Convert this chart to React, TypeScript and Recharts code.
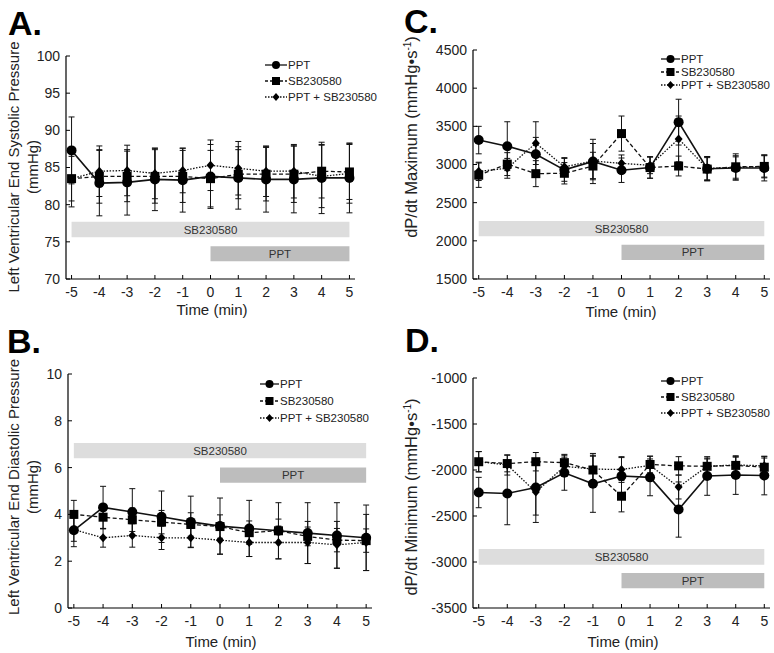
import React from 'react';
import { LineChart, Line, XAxis, YAxis, ErrorBar, ReferenceArea } from 'recharts';

const FONT = '"Liberation Sans", Arial, Helvetica, sans-serif';

const times = [-5, -4, -3, -2, -1, 0, 1, 2, 3, 4, 5];

// A. LV end systolic pressure (mmHg)
const lvespPPT = [87.3, 82.9, 83.0, 83.4, 83.3, 83.8, 83.6, 83.4, 83.4, 83.6, 83.6];
const lvespPPTErr = [4.5, 4.4, 4.4, 4.2, 4.3, 4.3, 4.2, 4.4, 4.5, 4.8, 4.7];
const lvespSB = [83.5, 83.8, 83.8, 83.8, 83.8, 83.5, 84.1, 84.1, 84.1, 84.5, 84.4];
const lvespSBErr = [3.8, 3.6, 3.4, 3.6, 3.5, 3.8, 3.3, 3.6, 3.8, 3.6, 3.7];
const lvespCombo = [83.5, 84.5, 84.6, 84.2, 84.6, 85.3, 84.9, 84.5, 84.5, 83.8, 84.2];
const lvespComboErr = [3.0, 3.4, 3.4, 3.4, 3.0, 3.4, 3.6, 3.4, 3.6, 4.2, 4.0];

// B. LV end diastolic pressure (mmHg)
const lvedpPPT = [3.32, 4.3, 4.1, 3.9, 3.68, 3.5, 3.4, 3.3, 3.2, 3.1, 3.0];
const lvedpPPTErr = [0.7, 0.9, 1.0, 1.1, 1.1, 1.2, 1.2, 1.2, 1.3, 1.4, 1.4];
const lvedpSB = [4.0, 3.88, 3.77, 3.67, 3.57, 3.48, 3.22, 3.3, 3.06, 2.9, 2.88];
const lvedpSBErr = [0.6, 0.5, 0.5, 0.5, 0.5, 0.5, 0.5, 0.5, 0.4, 0.5, 0.5];
const lvedpCombo = [3.35, 3.0, 3.1, 3.0, 3.0, 2.9, 2.8, 2.8, 2.8, 2.7, 2.8];
const lvedpComboErr = [0.5, 0.4, 0.5, 0.5, 0.4, 0.6, 0.6, 0.7, 0.9, 1.0, 1.2];

// C. dP/dt maximum
const dpMaxPPT = [3320, 3240, 3135, 2930, 3040, 2925, 2960, 3555, 2945, 2955, 2955];
const dpMaxPPTErr = [180, 320, 220, 150, 290, 160, 140, 300, 160, 160, 170];
const dpMaxSB = [2860, 3005, 2880, 2885, 2980, 3405, 2960, 2980, 2940, 2970, 2975];
const dpMaxSBErr = [160, 150, 170, 140, 180, 230, 140, 130, 150, 170, 150];
const dpMaxCombo = [2910, 2950, 3280, 2970, 3045, 3015, 2990, 3335, 2950, 2960, 2975];
const dpMaxComboErr = [120, 130, 280, 120, 230, 110, 110, 300, 150, 140, 140];

// D. dP/dt minimum
const dpMinPPT = [-2245, -2255, -2190, -2030, -2150, -2065, -2080, -2430, -2065, -2055, -2060];
const dpMinPPTErr = [165, 340, 300, 190, 310, 200, 200, 300, 210, 210, 210];
const dpMinSB = [-1910, -1930, -1910, -1920, -2000, -2285, -1940, -1955, -1960, -1950, -1970];
const dpMinSBErr = [110, 90, 100, 90, 150, 170, 90, 100, 80, 90, 100];
const dpMinCombo = [-1910, -1945, -2240, -1960, -1990, -1995, -1950, -2185, -1960, -1945, -1955];
const dpMinComboErr = [110, 110, 330, 100, 170, 140, 100, 130, 90, 90, 100];

// treatment bars [low, high]
const lvespBands = { sb: [75.6, 77.7], ppt: [72.4, 74.4] };
const lvedpBands = { sb: [6.4, 7.05], ppt: [5.35, 6.0] };
const dpMaxBands = { sb: [2060, 2260], ppt: [1750, 1950] };
const dpMinBands = { sb: [-3030, -2860], ppt: [-3285, -3120] };

const lvespTicks = [70, 75, 80, 85, 90, 95, 100];
const lvedpTicks = [0, 2, 4, 6, 8, 10];
const dpMaxTicks = [1500, 2000, 2500, 3000, 3500, 4000, 4500];
const dpMinTicks = [-3500, -3000, -2500, -2000, -1500, -1000];

const buildRows = (ppt: number[], pptErr: number[], sb: number[], sbErr: number[], combo: number[], comboErr: number[]) =>
    times.map((t, i) => ({
        t,
        ppt: ppt[i],
        pptErr: pptErr[i],
        sb: sb[i],
        sbErr: sbErr[i],
        combo: combo[i],
        comboErr: comboErr[i],
    }));

const SquareDot = (props: any) => {
    const { cx, cy, index } = props;
    if (cx == null || cy == null) return null;
    return <rect key={`sq-${index}`} x={cx - 4.5} y={cy - 4.5} width={9} height={9} fill="#000" />;
};

const DiamondDot = (props: any) => {
    const { cx, cy, index } = props;
    if (cx == null || cy == null) return null;
    return (
        <polygon
            key={`dm-${index}`}
            points={`${cx},${cy - 4.5} ${cx + 4},${cy} ${cx},${cy + 4.5} ${cx - 4},${cy}`}
            fill="#000"
        />
    );
};

const TEXT = '#222';
const tickStyle = { fill: TEXT, fontSize: 14, fontFamily: FONT };
const bandLabel = { fill: '#333', fontSize: 11.5, fontFamily: FONT };

interface PanelProps {
    rows: any[];
    yDomain: number[];
    yTicks: number[];
    bands: { sb: number[]; ppt: number[] };
    width: number;
    height: number;
    margin: { top: number; right: number; bottom: number; left: number };
}

function Panel({ rows, yDomain, yTicks, bands, width, height, margin }: PanelProps) {
    return (
        <LineChart width={width} height={height} data={rows} margin={margin}>
            <XAxis
                dataKey="t"
                type="number"
                domain={[-5.2, 5.2]}
                ticks={times}
                interval={0}
                height={30}
                tickSize={-4}
                tickMargin={12}
                axisLine={{ stroke: '#000', strokeWidth: 1.2 }}
                tickLine={{ stroke: '#000' }}
                tick={tickStyle}
                allowDataOverflow
            />
            <YAxis
                type="number"
                domain={yDomain}
                ticks={yTicks}
                interval={0}
                width={60}
                tickSize={-4}
                tickMargin={10}
                axisLine={{ stroke: '#000', strokeWidth: 1.2 }}
                tickLine={{ stroke: '#000' }}
                tick={tickStyle}
                allowDataOverflow
            />
            <ReferenceArea
                x1={-5}
                x2={5}
                y1={bands.sb[0]}
                y2={bands.sb[1]}
                fill="#dddddd"
                fillOpacity={1}
                stroke="none"
                label={{ value: 'SB230580', position: 'center', ...bandLabel }}
            />
            <ReferenceArea
                x1={0}
                x2={5}
                y1={bands.ppt[0]}
                y2={bands.ppt[1]}
                fill="#bdbdbd"
                fillOpacity={1}
                stroke="none"
                label={{ value: 'PPT', position: 'center', ...bandLabel }}
            />
            <Line
                dataKey="ppt"
                stroke="#111"
                strokeWidth={1.6}
                dot={{ r: 5, fill: '#000', stroke: '#000', strokeWidth: 0 }}
                isAnimationActive={false}
            >
                <ErrorBar dataKey="pptErr" direction="y" width={3} stroke="#111" strokeWidth={1} />
            </Line>
            <Line
                dataKey="combo"
                stroke="#111"
                strokeWidth={1.3}
                strokeDasharray="1.5 1.5"
                dot={DiamondDot}
                isAnimationActive={false}
            >
                <ErrorBar dataKey="comboErr" direction="y" width={3} stroke="#111" strokeWidth={1} />
            </Line>
            <Line
                dataKey="sb"
                stroke="#111"
                strokeWidth={1.3}
                strokeDasharray="4 2.5"
                dot={SquareDot}
                isAnimationActive={false}
            >
                <ErrorBar dataKey="sbErr" direction="y" width={3} stroke="#111" strokeWidth={1} />
            </Line>
        </LineChart>
    );
}

function LegendBlock({ x0, x1, rows }: { x0: number; x1: number; rows: number[] }) {
    const mid = (x0 + x1) / 2;
    const items = [
        { name: 'PPT', dash: undefined },
        { name: 'SB230580', dash: '3 2' },
        { name: 'PPT + SB230580', dash: '1.5 1.5' },
    ];
    return (
        <g>
            {items.map((it, i) => {
                const y = rows[i];
                return (
                    <g key={it.name}>
                        <line x1={x0} x2={x1} y1={y} y2={y} stroke="#111" strokeWidth={1.3} strokeDasharray={it.dash} />
                        {i === 0 && <circle cx={mid} cy={y} r={4} fill="#000" />}
                        {i === 1 && <rect x={mid - 4} y={y - 4} width={8} height={8} fill="#000" />}
                        {i === 2 && (
                            <polygon points={`${mid},${y - 4} ${mid + 3.5},${y} ${mid},${y + 4} ${mid - 3.5},${y}`} fill="#000" />
                        )}
                        <text x={x1 + 1} y={y + 4} fontSize={11.5} fontFamily={FONT} fill={TEXT}>
                            {it.name}
                        </text>
                    </g>
                );
            })}
        </g>
    );
}

function DpTitle({ x, y, label }: { x: number; y: number; label: string }) {
    return (
        <text x={x} y={y} transform={`rotate(-90 ${x} ${y})`} textAnchor="middle" fontSize={16.5} fontFamily={FONT} fill={TEXT}>
            {label} (mmHg•s
            <tspan dy={-6} fontSize={10}>-1</tspan>
            <tspan dy={6}>)</tspan>
        </text>
    );
}

export default function App() {
    const rowsA = buildRows(lvespPPT, lvespPPTErr, lvespSB, lvespSBErr, lvespCombo, lvespComboErr);
    const rowsB = buildRows(lvedpPPT, lvedpPPTErr, lvedpSB, lvedpSBErr, lvedpCombo, lvedpComboErr);
    const rowsC = buildRows(dpMaxPPT, dpMaxPPTErr, dpMaxSB, dpMaxSBErr, dpMaxCombo, dpMaxComboErr);
    const rowsD = buildRows(dpMinPPT, dpMinPPTErr, dpMinSB, dpMinSBErr, dpMinCombo, dpMinComboErr);

    const titleStyle = { fontSize: 15, fontFamily: FONT, fill: TEXT };
    const letterStyle = { fontSize: 34, fontWeight: 700, fontFamily: FONT, fill: '#000' };

    return (
        <div style={{ position: 'absolute', left: 0, top: 0, width: 774, height: 653, background: '#fff' }}>
            <div style={{ position: 'absolute', left: 0, top: 0 }}>
                <Panel rows={rowsA} yDomain={[70, 100]} yTicks={lvespTicks} bands={lvespBands}
                    width={387} height={325} margin={{ top: 56, right: 32, bottom: 16, left: 6 }} />
            </div>
            <div style={{ position: 'absolute', left: 387, top: 0 }}>
                <Panel rows={rowsC} yDomain={[1500, 4500]} yTicks={dpMaxTicks} bands={dpMaxBands}
                    width={387} height={325} margin={{ top: 50, right: 4, bottom: 16, left: 26 }} />
            </div>
            <div style={{ position: 'absolute', left: 0, top: 325 }}>
                <Panel rows={rowsB} yDomain={[0, 10]} yTicks={lvedpTicks} bands={lvedpBands}
                    width={387} height={328} margin={{ top: 49, right: 15, bottom: 15, left: 8 }} />
            </div>
            <div style={{ position: 'absolute', left: 387, top: 325 }}>
                <Panel rows={rowsD} yDomain={[-3500, -1000]} yTicks={dpMinTicks} bands={dpMinBands}
                    width={387} height={328} margin={{ top: 53, right: 4, bottom: 15, left: 26 }} />
            </div>

            <svg width={774} height={653} style={{ position: 'absolute', left: 0, top: 0, pointerEvents: 'none' }}>
                <text x={8} y={35} {...letterStyle}>A.</text>
                <text x={404} y={33} {...letterStyle}>C.</text>
                <text x={7} y={353} {...letterStyle}>B.</text>
                <text x={405} y={352} {...letterStyle}>D.</text>

                <text x={212} y={315} textAnchor="middle" {...titleStyle}>Time (min)</text>
                <text x={621} y={317} textAnchor="middle" {...titleStyle}>Time (min)</text>
                <text x={221} y={647} textAnchor="middle" {...titleStyle}>Time (min)</text>
                <text x={623} y={647} textAnchor="middle" {...titleStyle}>Time (min)</text>

                <text x={19} y={167} transform="rotate(-90 19 167)" textAnchor="middle" {...titleStyle}>
                    Left Ventricular End Systolic Pressure
                </text>
                <text x={38} y={167} transform="rotate(-90 38 167)" textAnchor="middle" {...titleStyle}>(mmHg)</text>
                <text x={19} y={487} transform="rotate(-90 19 487)" textAnchor="middle" {...titleStyle}>
                    Left Ventricular End Diastolic Pressure
                </text>
                <text x={38} y={487} transform="rotate(-90 38 487)" textAnchor="middle" {...titleStyle}>(mmHg)</text>
                <DpTitle x={417} y={137} label="dP/dt Maximum" />
                <DpTitle x={417} y={497} label="dP/dt Minimum" />

                <LegendBlock x0={265} x1={287} rows={[65, 81, 97]} />
                <LegendBlock x0={661} x1={680} rows={[59, 72, 85]} />
                <LegendBlock x0={260} x1={279} rows={[384, 401, 418]} />
                <LegendBlock x0={661} x1={680} rows={[381, 397, 413]} />
            </svg>
        </div>
    );
}
